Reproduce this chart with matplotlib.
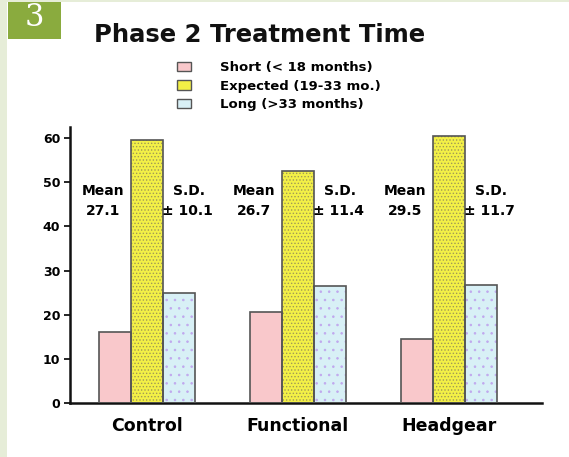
import numpy as np
import matplotlib
matplotlib.use("Agg")
import matplotlib.pyplot as plt
from matplotlib.patches import Patch, Rectangle

# ---- data ----
groups = ["Control", "Functional", "Headgear"]
short_vals = [16.0, 20.5, 14.5]
expected_vals = [59.5, 52.5, 60.5]
long_vals = [25.0, 26.5, 26.8]
means = ["27.1", "26.7", "29.5"]
sds = ["10.1", "11.4", "11.7"]
series_labels = ["Short (< 18 months)", "Expected (19-33 mo.)", "Long (>33 months)"]
yticks = [0, 10, 20, 30, 40, 50, 60]

plt.rcParams['font.family'] = ['DejaVu Sans']
plt.rcParams['hatch.linewidth'] = 0.6

W, H = 569, 457
fig = plt.figure(figsize=(W / 100, H / 100), dpi=100)
fig.patch.set_facecolor("white")

# page frame (pale green border + green number box)
frame_green = "#e6edd8"
fig.add_artist(Rectangle((0, 0), 7 / W, 1, transform=fig.transFigure, color=frame_green, lw=0))
fig.add_artist(Rectangle((0, 1 - 2 / H), 1, 2 / H, transform=fig.transFigure, color=frame_green, lw=0))
fig.add_artist(Rectangle((8 / W, 1 - 39 / H), 53 / W, 37 / H, transform=fig.transFigure,
                         color="#8aab3e", lw=0))
fig.text(34 / W, 1 - 18 / H, "3", color="white", fontsize=22, family="DejaVu Serif",
         ha="center", va="center")

fig.text(260 / W, 1 - 35 / H, "Phase 2 Treatment Time", fontsize=17.5, fontweight="bold",
         ha="center", va="center", color="#111111")

# axes placed in pixels
ax = fig.add_axes([70 / W, (H - 403) / H, (542 - 70) / W, (403 - 127) / H])

x = np.arange(len(groups))
bw = 0.212
colors = ["#f9c8cb", "#f3f046", "#d8f0f6"]
hatches = [None, ".....", ".."]
hatch_cols = ["#f9c8cb", "#a09a55", "#c0a8ee"]
edge = "#555555"

for i, vals in enumerate([short_vals, expected_vals, long_vals]):
    pos = x + (i - 1) * bw
    ax.bar(pos, vals, bw, color=colors[i], hatch=hatches[i], edgecolor=hatch_cols[i],
           linewidth=0, zorder=2)
    ax.bar(pos, vals, bw, fill=False, edgecolor=edge, linewidth=1.2, zorder=3)

# mean / sd annotations
for i in range(len(groups)):
    ax.text(x[i] - 0.29, 48, "Mean", ha="center", va="center", fontsize=10, fontweight="bold")
    ax.text(x[i] - 0.29, 43.4, means[i], ha="center", va="center", fontsize=10, fontweight="bold")
    ax.text(x[i] + 0.28, 48, "S.D.", ha="center", va="center", fontsize=10, fontweight="bold")
    ax.text(x[i] + 0.27, 43.4, "\u00b1 " + sds[i], ha="center", va="center", fontsize=10,
            fontweight="bold")

ax.set_xlim(-0.51, 2.616)
ax.set_ylim(0, 62.5)
ax.set_yticks(yticks)
ax.set_yticklabels([str(t) for t in yticks], fontsize=9, fontweight="bold")
ax.set_xticks(x)
ax.set_xticklabels(groups, fontsize=12.5, fontweight="bold")
ax.tick_params(axis="x", length=0, pad=10)
ax.tick_params(axis="y", length=4, width=1.2, pad=3)
for s in ["top", "right"]:
    ax.spines[s].set_visible(False)
for s in ["left", "bottom"]:
    ax.spines[s].set_linewidth(1.8)
    ax.spines[s].set_color("#111111")

handles = [Patch(facecolor=colors[i], edgecolor=edge, linewidth=1) for i in range(3)]
fig.legend(handles, series_labels, loc="upper left", bbox_to_anchor=(177 / W, 1 - 61 / H),
           frameon=False, prop={"weight": "bold", "size": 9.5},
           handlelength=1.05, handleheight=0.75, labelspacing=0.42, handletextpad=2.2,
           borderpad=0, borderaxespad=0)

fig.savefig("out.png", dpi=100)
